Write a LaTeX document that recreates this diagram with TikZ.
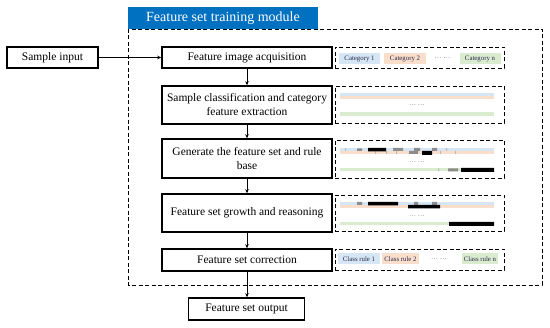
\documentclass[tikz,border=0pt]{standalone}
\usepackage{fontspec}
\setmainfont{Liberation Serif}
\usetikzlibrary{arrows.meta}
\definecolor{titleblue}{RGB}{0,112,192}
\definecolor{cblue}{RGB}{214,230,245}
\definecolor{corange}{RGB}{250,222,204}
\definecolor{cgreen}{RGB}{218,236,208}
\definecolor{ctext}{RGB}{40,40,70}
\definecolor{mgray}{RGB}{140,140,140}
\definecolor{lgray}{RGB}{185,185,185}
\definecolor{dotgray}{RGB}{110,110,110}
\begin{document}
\begin{tikzpicture}[x=1pt,y=-1pt,
  mainbox/.style={draw, line width=1.5pt, minimum width=170pt, align=center, inner sep=0pt,
    font=\fontsize{11.5}{14}\selectfont},
  dbox/.style={draw, line width=0.9pt, dash pattern=on 4pt off 2.5pt, minimum width=169pt, inner sep=0pt},
  tag/.style={minimum height=11pt, inner sep=0pt, text=ctext, font=\fontsize{6.8}{7}\selectfont},
  dots/.style={inner sep=0pt, text=dotgray, font=\fontsize{7}{7}\selectfont},
  arr/.style={line width=0.8pt, -{Stealth[length=4pt,width=3.5pt]}}
]
\useasboundingbox (0,0) rectangle (550,328);
% outer dashed module
\draw[line width=0.9pt, dash pattern=on 4pt off 2.5pt] (128,29) rectangle (542,285);
\node[fill=titleblue, text=white, minimum width=190pt, minimum height=22pt, inner sep=0pt,
  font=\fontsize{14}{15}\selectfont] (title) at (223,18) {Feature set training module};

% main boxes
\node[mainbox, minimum width=91pt, minimum height=21pt] (si) at (52.5,57.5) {Sample input};
\node[mainbox, minimum height=21pt] (b1) at (247,57.5) {Feature image acquisition};
\node[mainbox, minimum height=38pt] (b2) at (247,105) {Sample classification and category\\feature extraction};
\node[mainbox, minimum height=39pt] (b3) at (247,158.5) {Generate the feature set and rule\\base};
\node[mainbox, minimum height=38pt] (b4) at (247,213) {Feature set growth and reasoning};
\node[mainbox, minimum height=22pt] (b5) at (247,260) {Feature set correction};
\node[mainbox, minimum width=116pt, minimum height=22pt] (out) at (246.5,309) {Feature set output};

\draw[arr] (si) -- (b1);
\draw[arr] (b1) -- (b2);
\draw[arr] (b2) -- (b3);
\draw[arr] (b3) -- (b4);
\draw[arr] (b4) -- (b5);
\draw[arr] (b5.south) -- (out.north -| b5.south);

% inner dashed boxes
\node[dbox, minimum height=21pt] (d1) at (419.5,57.5) {};
\node[dbox, minimum height=37pt] (d2) at (419.5,104.5) {};
\node[dbox, minimum height=38pt] (d3) at (419.5,159) {};
\node[dbox, minimum height=36pt] (d4) at (419.5,213) {};
\node[dbox, minimum height=21pt] (d5) at (419.5,259.5) {};

% categories
\node[tag, fill=cblue, minimum width=41pt] (c1) at (359.5,58.5) {Category 1};
\node[tag, fill=corange, minimum width=42pt] (c2) at (405,58.5) {Category 2};
\node[dots] (cd) at (442.5,58.5) {\ldots\ \ldots};
\node[tag, fill=cgreen, minimum width=41pt] (cn) at (480,58.5) {Category n};

% stripes box 2
\fill[cblue] (340,93) rectangle (494,96);
\fill[corange] (340,96) rectangle (494,99);
\fill[cgreen] (340,112.5) rectangle (494,116);
\node[dots] (d2dots) at (417,105.5) {\ldots\ \ldots};

% stripes box 3
\fill[cblue] (340,148) rectangle (494,151);
\fill[corange] (340,151) rectangle (494,154);
\fill[cgreen] (340,168.5) rectangle (494,171.5);
\node[dots] (d3dots) at (417,162) {\ldots\ \ldots};
\fill[lgray] (345,148) rectangle (346,151) (375,151) rectangle (376,154) (386,151) rectangle (387,154)
  (396,151) rectangle (397,154) (440,151) rectangle (441,154) (455,151) rectangle (456,154)
  (446,148) rectangle (447,151) (452,168.5) rectangle (453,171.5) (438,168.5) rectangle (439,171.5);
\fill[mgray] (357,148.5) rectangle (362,151) (393,148) rectangle (403,151) (409,151) rectangle (418,154)
  (414,148) rectangle (420,151) (432,148) rectangle (437,151) (448,168.5) rectangle (458,171.5);
\fill[black] (368,148) rectangle (386,151.5) (422,151) rectangle (432,155) (461,168) rectangle (494,172);

% stripes box 4
\fill[cblue] (340,202) rectangle (494,205);
\fill[corange] (340,205) rectangle (494,208);
\fill[cgreen] (340,222) rectangle (494,225.5);
\node[dots] (d4dots) at (417,216.5) {\ldots\ \ldots};
\fill[mgray] (357,202) rectangle (362,205) (414,202) rectangle (418,205) (432,202) rectangle (437,205);
\fill[black] (368,202) rectangle (398,205.5) (408,205) rectangle (440,208.5) (449,222) rectangle (494,226);

% class rules
\node[tag, fill=cblue, minimum width=42pt] (r1) at (359,259) {Class rule 1};
\node[tag, fill=corange, minimum width=37pt] (r2) at (400.5,259) {Class rule 2};
\node[dots] (rd) at (439,259) {\ldots\ \ldots};
\node[tag, fill=cgreen, minimum width=36pt] (rn) at (480,259) {Class rule n};
\end{tikzpicture}
\end{document}
